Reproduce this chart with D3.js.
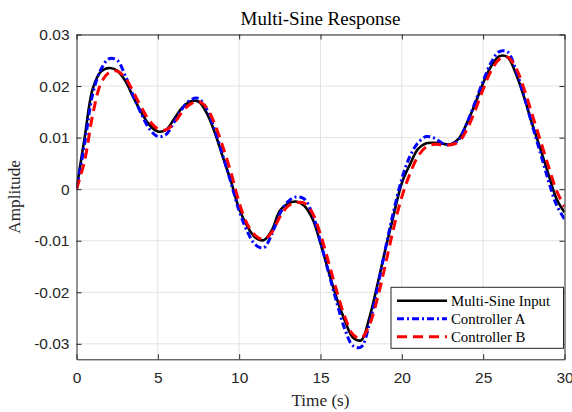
<!DOCTYPE html>
<html>
<head>
<meta charset="utf-8">
<script src="https://cdn.jsdelivr.net/npm/d3@7"></script>
<style>
  body { margin: 0; background: #fff; }
</style>
</head>
<body>
<div id="chart"></div>
<script>
// time axis, one sample every 0.5 s
var time = d3.range(0, 30.01, 0.5)

// in units of 1e-3
var inputVals = [0, 10, 19.5, 22.8, 23.5, 23.0, 21.0, 17.8, 14.8, 12.4, 11.2, 11.5, 13.6, 15.8, 17.0, 17.0,
  14.8, 11.0, 6.2, 1.5, -3.8, -7.2, -9.4, -9.9, -8.0, -4.2, -2.8, -2.4, -3.2, -5.7, -10.5,
  -16.0, -21.2, -25.5, -28.8, -29.3, -25.0, -18.5, -11.5, -5.0, 1.2, 4.8, 7.8, 8.9, 9.0, 8.8,
  8.7, 9.8, 12.8, 16.5, 20.6, 23.9, 25.8, 25.6, 22.5, 18.0, 12.8, 8.0, 3.0, -1.8, -4.5]

var ctrlAVals = [0, 8.8, 18.5, 23.2, 25.3, 25.0, 22.0, 18.0, 14.5, 11.6, 10.2, 10.6, 13.0, 15.6, 17.3, 17.6,
  15.5, 11.5, 6.5, 1.2, -4.2, -8.2, -10.8, -11.4, -8.8, -4.8, -2.4, -1.5, -1.9, -4.8, -10.2,
  -16.2, -22.0, -27.2, -30.4, -30.6, -26.2, -19.2, -11.4, -4.2, 2.0, 6.4, 9.0, 10.2, 9.9, 8.9,
  8.6, 9.6, 12.8, 16.8, 21.0, 24.6, 26.7, 26.6, 23.2, 18.2, 12.6, 7.2, 1.8, -3.0, -5.8]

var ctrlBVals = [0, 5.5, 14.5, 20.5, 22.6, 22.9, 21.6, 18.8, 15.8, 13.2, 11.7, 11.5, 12.8, 15.0, 16.5, 17.0,
  15.8, 12.6, 8.2, 3.2, -2.6, -6.8, -9.0, -9.7, -8.4, -5.4, -3.3, -2.6, -2.7, -4.6, -8.8,
  -14.2, -19.8, -24.8, -28.2, -28.9, -26.4, -21.2, -14.5, -7.5, -1.5, 3.0, 6.4, 8.2, 8.7, 8.6,
  8.6, 9.2, 11.6, 15.2, 19.4, 23.0, 25.2, 25.6, 23.6, 19.6, 14.6, 9.6, 4.6, -0.2, -3.4]

var seriesNames = ["Multi-Sine Input", "Controller A", "Controller B"]
var seriesColors = ["#000000", "#0000ff", "#ff0000"]
var seriesDash = [null, "7,3,2,3", "10,6"]

var xTicks = [0, 5, 10, 15, 20, 25, 30]
var yTicks = [-0.03, -0.02, -0.01, 0, 0.01, 0.02, 0.03]

var width = 572
var height = 412
// plot box edges (window.top is reserved, so prefixed names)
var plotL = 76.5, plotR = 564.5, plotT = 34.5, plotB = 359.3

var serif = "'Liberation Serif', 'Times New Roman', serif"
var sans = "'Liberation Sans', Arial, sans-serif"

var x = d3.scaleLinear().domain([0, 30]).range([plotL, plotR])
var y = d3.scaleLinear().domain([-0.033, 0.03]).range([plotB, plotT])

var svg = d3.select("#chart").append("svg")
  .attr("width", width)
  .attr("height", height)

// grid
svg.append("g").selectAll("line")
  .data(xTicks.slice(1, -1))
  .enter().append("line")
  .attr("x1", function(d) { return x(d) }).attr("x2", function(d) { return x(d) })
  .attr("y1", plotT).attr("y2", plotB)
  .attr("stroke", "#e3e3e3").attr("stroke-width", 1)

svg.append("g").selectAll("line")
  .data(yTicks)
  .enter().append("line")
  .attr("x1", plotL).attr("x2", plotR)
  .attr("y1", function(d) { return y(d) }).attr("y2", function(d) { return y(d) })
  .attr("stroke", "#e3e3e3").attr("stroke-width", 1)

svg.append("clipPath").attr("id", "clip")
  .append("rect").attr("x", plotL).attr("y", plotT)
  .attr("width", plotR - plotL).attr("height", plotB - plotT)

var line = d3.line()
  .x(function(d) { return x(d[0]) })
  .y(function(d) { return y(d[1]) })
  .curve(d3.curveCatmullRom)

var allVals = [inputVals, ctrlAVals, ctrlBVals]
allVals.forEach(function(vals, i) {
  var pts = time.map(function(t, j) { return [t, vals[j] / 1000] })
  svg.append("path")
    .datum(pts)
    .attr("clip-path", "url(#clip)")
    .attr("d", line)
    .attr("fill", "none")
    .attr("stroke", seriesColors[i])
    .attr("stroke-width", i == 0 ? 2.6 : 3)
    .attr("stroke-dasharray", seriesDash[i])
})

// axes, ticks inward on all sides
var axisColor = "#262626"
var tickLen = 5

var gx = svg.append("g").attr("transform", "translate(0," + plotB + ")")
  .call(d3.axisBottom(x).tickValues(xTicks).tickSizeInner(-tickLen).tickSizeOuter(0).tickPadding(12.5))
var gxTop = svg.append("g").attr("transform", "translate(0," + plotT + ")")
  .call(d3.axisTop(x).tickValues(xTicks).tickSizeInner(-tickLen).tickSizeOuter(0).tickFormat(""))
var gy = svg.append("g").attr("transform", "translate(" + plotL + ",0)")
  .call(d3.axisLeft(y).tickValues(yTicks).tickSizeInner(-tickLen).tickSizeOuter(0).tickPadding(7)
    .tickFormat(function(d) { return Math.abs(d) < 1e-9 ? "0" : d3.format(".2f")(d).replace("\u2212", "-") }))
var gyRight = svg.append("g").attr("transform", "translate(" + plotR + ",0)")
  .call(d3.axisRight(y).tickValues(yTicks).tickSizeInner(-tickLen).tickSizeOuter(0).tickFormat(""))

;[gx, gxTop, gy, gyRight].forEach(function(g) {
  g.select(".domain").attr("stroke", axisColor)
  g.selectAll(".tick line").attr("stroke", axisColor)
  g.selectAll(".tick text")
    .attr("fill", axisColor)
    .attr("font-family", sans)
    .attr("font-size", 15.5)
})

// title and axis labels
svg.append("text")
  .attr("x", (plotL + plotR) / 2)
  .attr("y", 25)
  .attr("text-anchor", "middle")
  .attr("font-family", serif)
  .attr("font-size", 19)
  .attr("fill", "#000")
  .text("Multi-Sine Response")

svg.append("text")
  .attr("x", (plotL + plotR) / 2)
  .attr("y", 405.5)
  .attr("text-anchor", "middle")
  .attr("font-family", serif)
  .attr("font-size", 17.2)
  .attr("fill", axisColor)
  .text("Time (s)")

svg.append("text")
  .attr("transform", "translate(19.5," + ((plotT + plotB) / 2) + ") rotate(-90)")
  .attr("text-anchor", "middle")
  .attr("font-family", serif)
  .attr("font-size", 17.2)
  .attr("fill", axisColor)
  .text("Amplitude")

// legend
var legend = svg.append("g").attr("transform", "translate(391,287.3)")
legend.append("rect")
  .attr("width", 172.5).attr("height", 61)
  .attr("fill", "#fff").attr("stroke", axisColor).attr("stroke-width", 1)

var items = legend.selectAll("g")
  .data(seriesNames)
  .enter().append("g")
  .attr("transform", function(d, i) { return "translate(0," + (13.4 + i * 18) + ")" })

items.append("line")
  .attr("x1", 6).attr("x2", 56)
  .attr("stroke", function(d, i) { return seriesColors[i] })
  .attr("stroke-width", function(d, i) { return i == 0 ? 2.6 : 3 })
  .attr("stroke-dasharray", function(d, i) { return seriesDash[i] })

items.append("text")
  .attr("x", 60)
  .attr("y", 5)
  .attr("font-family", serif)
  .attr("font-size", 14.8)
  .attr("fill", "#000")
  .text(function(d) { return d })
</script>
</body>
</html>
